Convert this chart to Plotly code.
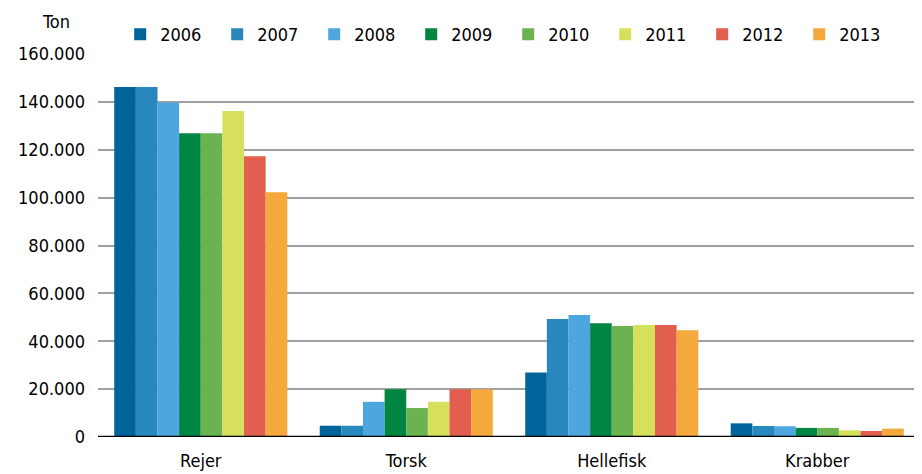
import plotly.graph_objects as go

categories = ["Rejer", "Torsk", "Hellefisk", "Krabber"]
years = ["2006", "2007", "2008", "2009", "2010", "2011", "2012", "2013"]
values_2006 = [146200, 4700, 26900, 5700]
values_2007 = [146200, 4700, 49300, 4600]
values_2008 = [139700, 14700, 51000, 4500]
values_2009 = [126900, 19900, 47500, 3800]
values_2010 = [126900, 12100, 46400, 3800]
values_2011 = [136200, 14700, 46800, 2800]
values_2012 = [117300, 20000, 46800, 2500]
values_2013 = [102200, 20000, 44600, 3500]
series = [values_2006, values_2007, values_2008, values_2009,
          values_2010, values_2011, values_2012, values_2013]
colors = ["#00639A", "#2888BE", "#4DA6DD", "#008542",
          "#6BB250", "#D6E05C", "#E25F4F", "#F5A83B"]
tick_vals = [0, 20000, 40000, 60000, 80000, 100000, 120000, 140000, 160000]
tick_text = ["0", "20.000", "40.000", "60.000", "80.000", "100.000",
             "120.000", "140.000", "160.000"]

FONT = "DejaVu Sans Condensed, Liberation Sans Narrow, sans-serif"

fig = go.Figure()
for y, vals, c in zip(years, series, colors):
    fig.add_trace(go.Bar(name=y, x=categories, y=vals, marker_color=c,
                         marker_line_width=0))

fig.update_layout(
    width=914, height=466,
    margin=dict(l=90, r=2, t=46, b=37, autoexpand=False),
    barmode="group", bargap=0.158, bargroupgap=0,
    plot_bgcolor="white", paper_bgcolor="white",
    font=dict(family=FONT, size=18, color="black"),
    showlegend=True,
    legend=dict(orientation="h", x=0.027, xanchor="left", y=1.051, yanchor="middle",
                font=dict(family=FONT, size=18, color="black"),
                entrywidth=52, entrywidthmode="pixels",
                itemwidth=30, tracegroupgap=0, bgcolor="rgba(0,0,0,0)"),
    xaxis=dict(showgrid=False, ticks="", showline=False, ticklabelstandoff=11,
               tickfont=dict(family=FONT, size=18, color="black")),
    yaxis=dict(range=[0, 160000], tickvals=tick_vals, ticktext=tick_text,
               showgrid=True, gridcolor="#A0A0A0", gridwidth=2,
               zeroline=False, showline=False, ticks="", ticklabelstandoff=12,
               tickfont=dict(family=FONT, size=18, color="black")),
    shapes=[dict(type="line", xref="paper", yref="y", x0=0, x1=1, y0=0, y1=0,
                 line=dict(color="black", width=2.5))],
    annotations=[dict(text="Ton", xref="paper", yref="paper", x=-0.0511, y=1.0836,
                      xanchor="center", yanchor="middle", showarrow=False,
                      font=dict(family=FONT, size=18, color="black"))],
)

fig.write_html("out.html")
